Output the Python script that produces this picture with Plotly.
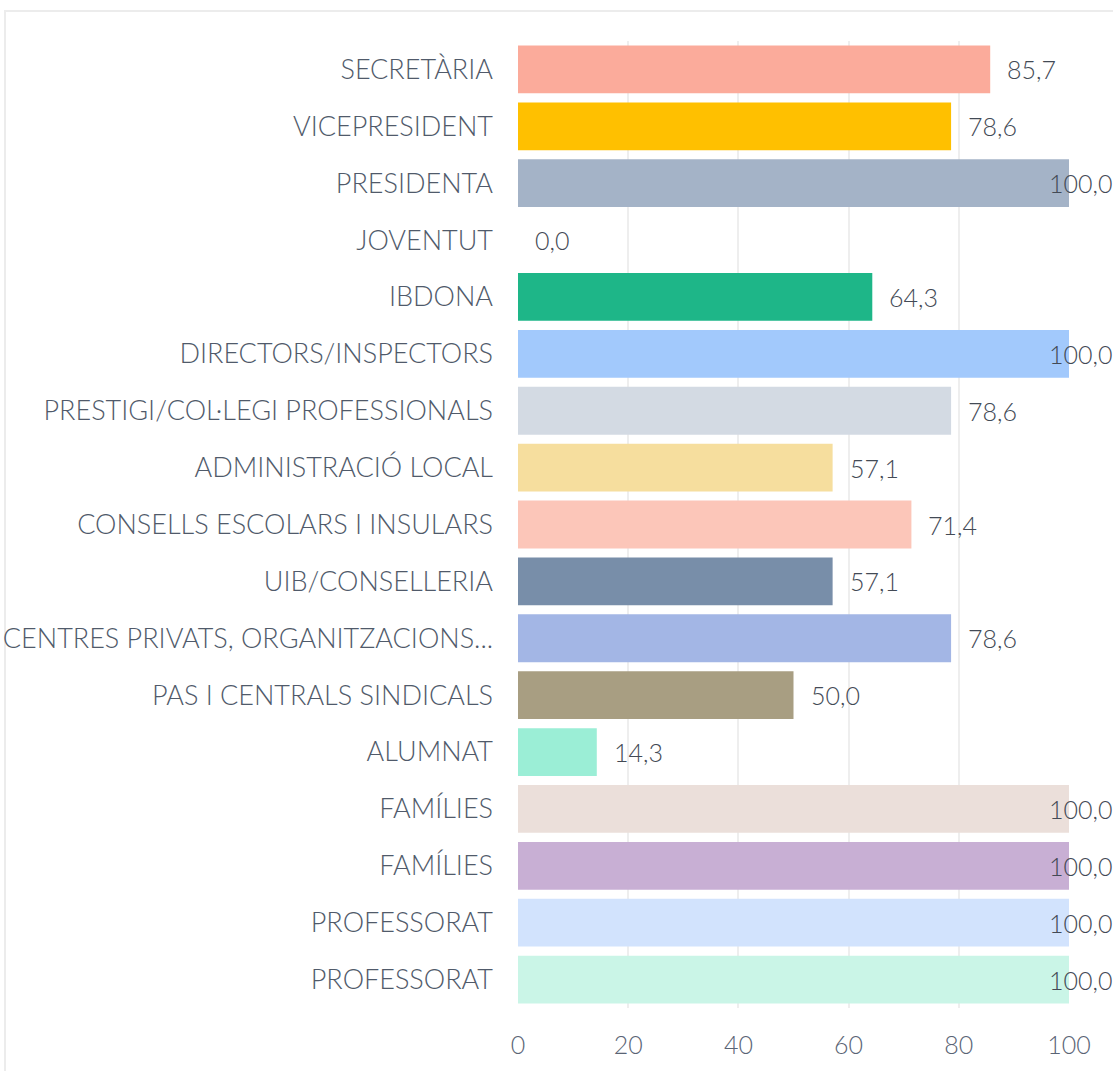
import plotly.graph_objects as go

# categories listed top to bottom, as in the picture
categories = ['SECRETÀRIA', 'VICEPRESIDENT', 'PRESIDENTA', 'JOVENTUT', 'IBDONA',
              'DIRECTORS/INSPECTORS', 'PRESTIGI/COL·LEGI PROFESSIONALS',
              'ADMINISTRACIÓ LOCAL', 'CONSELLS ESCOLARS I INSULARS',
              'UIB/CONSELLERIA', 'CENTRES PRIVATS, ORGANITZACIONS...',
              'PAS I CENTRALS SINDICALS', 'ALUMNAT', 'FAMÍLIES', 'FAMÍLIES',
              'PROFESSORAT', 'PROFESSORAT']
values = [85.7, 78.6, 100.0, 0.0, 64.3, 100.0, 78.6, 57.1, 71.4, 57.1, 78.6,
          50.0, 14.3, 100.0, 100.0, 100.0, 100.0]
colors = ['#fbab9b', '#ffc000', '#a4b3c7', '#ffffff', '#1eb688', '#a2c9fc',
          '#d3dae3', '#f6de9e', '#fcc6b9', '#788ea9', '#a3b6e5', '#a89e82',
          '#9beed6', '#ebdfda', '#c8afd4', '#d2e3fd', '#caf5e7']
x_ticks = [0, 20, 40, 60, 80, 100]

FONT = 'Lato Light, Lato'
positions = list(range(len(categories)))

fig = go.Figure()
fig.add_trace(go.Bar(
    x=values, y=positions, orientation='h',
    marker=dict(color=colors, line=dict(width=0)),
    hoverinfo='skip',
))

# value labels: just right of the bar end, pinned to the right edge at 100
for pos, val in zip(positions, values):
    label = f'{val:.1f}'.replace('.', ',')
    lab_font = dict(family=FONT, size=25, color='#434a55', weight=300)
    if val >= 100:
        fig.add_annotation(x=val, y=pos, text=label, showarrow=False,
                           xanchor='right', xshift=45, font=lab_font)
    else:
        fig.add_annotation(x=val, y=pos, text=label, showarrow=False,
                           xanchor='left', xshift=15, font=lab_font)

# light frame round the chart
fig.add_shape(type='rect', xref='paper', yref='paper',
              x0=-0.931, x1=1.2, y0=-0.2, y1=1.031,
              line=dict(color='#ececec', width=2), layer='below')

fig.update_layout(
    width=1113, height=1071,
    margin=dict(l=518, r=44, t=41, b=63),
    plot_bgcolor='white', paper_bgcolor='white',
    bargap=0.16,
    showlegend=False,
    font=dict(family=FONT, size=25, color='#4a5568', weight=300),
)
fig.update_xaxes(range=[0, 100], tickvals=x_ticks, showgrid=True,
                 gridcolor='#eeeeee', gridwidth=2, zeroline=False,
                 showline=False, ticks='', ticklabelstandoff=20,
                 automargin=False, fixedrange=True,
                 tickfont=dict(family=FONT, size=25, color='#5a6475', weight=300))
fig.update_yaxes(tickvals=positions, ticktext=categories,
                 range=[len(categories) - 0.5, -0.5], showgrid=False,
                 zeroline=False, showline=False, ticks='',
                 ticklabelstandoff=24, automargin=False, fixedrange=True,
                 tickfont=dict(family=FONT, size=27, color='#505a6a', weight=300))

# drop the default 8px body margin so the figure fills the window exactly
fig.write_html('out.html', config={'displayModeBar': False},
               post_script="document.body.style.margin = '0';")
